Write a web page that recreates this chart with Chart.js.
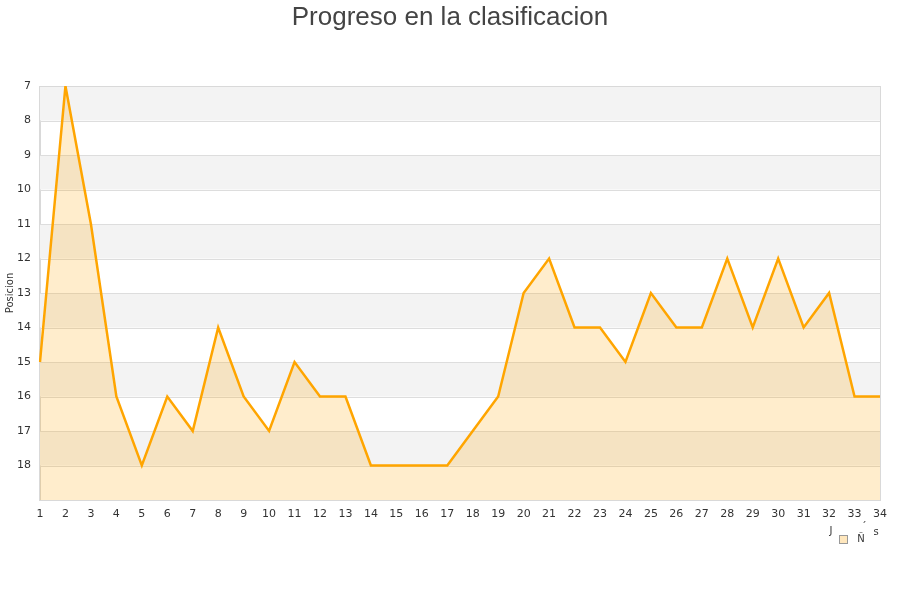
<!DOCTYPE html>
<html>
<head>
<meta charset="utf-8">
<script src="https://cdn.jsdelivr.net/npm/chart.js@4"></script>
<style>
html,body{margin:0;padding:0;background:#fff;}
#wrap{width:900px;height:600px;position:relative;}
</style>
</head>
<body>
<div id="wrap"><canvas id="c" width="900" height="600"></canvas></div>
<script>
const jornadas = ['1','2','3','4','5','6','7','8','9','10','11','12','13','14','15','16','17','18','19','20','21','22','23','24','25','26','27','28','29','30','31','32','33','34'];
const posicion = [15,7,11,16,18,16,17,14,16,17,15,16,16,18,18,18,18,17,16,13,12,14,14,15,13,14,14,12,14,12,14,13,16,16];
const yTicks = [7,8,9,10,11,12,13,14,15,16,17,18];
const titleText = 'Progreso en la clasificacion';
const yTitle = 'Posicion';

const bandsPlugin = {
  id: 'bands',
  beforeDatasetsDraw(chart) {
    const {ctx, chartArea: a, scales: {y}} = chart;
    ctx.save();
    for (let v = 7, i = 0; v < 19; v++, i++) {
      if (i % 2 === 0) {
        const t = y.getPixelForValue(v), b = y.getPixelForValue(v + 1);
        ctx.fillStyle = '#f3f3f3';
        ctx.fillRect(a.left, t, a.right - a.left, b - t);
      }
    }
    ctx.strokeStyle = '#dddddd';
    ctx.lineWidth = 1;
    for (let v = 8; v < 19; v++) {
      const p = Math.round(y.getPixelForValue(v)) + 0.5;
      ctx.beginPath(); ctx.moveTo(a.left, p); ctx.lineTo(a.right, p); ctx.stroke();
    }
    ctx.strokeStyle = '#d9d9d9';
    ctx.strokeRect(Math.round(a.left) - 0.5, Math.round(a.top) + 0.5, Math.round(a.right - a.left) + 1, Math.round(a.bottom - a.top));
    ctx.restore();
  },
  afterDraw(chart) {
    const {ctx} = chart;
    ctx.save();
    ctx.fillStyle = '#444444';
    ctx.font = '26px "Liberation Sans", Arial, sans-serif';
    ctx.textAlign = 'center';
    ctx.textBaseline = 'middle';
    ctx.fillText(titleText, 450, 18);
    // legend
    ctx.fillStyle = '#ffe7bd';
    ctx.fillRect(839.5, 535.5, 8, 8);
    ctx.strokeStyle = '#999999';
    ctx.lineWidth = 1;
    ctx.strokeRect(839.5, 535.5, 8, 8);
    ctx.fillStyle = '#333333';
    ctx.font = '10px "DejaVu Sans", sans-serif';
    ctx.textAlign = 'center';
    ctx.textBaseline = 'middle';
    ctx.fillText('J', 831, 531);
    ctx.fillText('Ñ', 861, 539);
    ctx.fillText('ˊ', 864, 527);
    ctx.fillText('s', 876, 532);
    ctx.restore();
  }
};

new Chart(document.getElementById('c'), {
  type: 'line',
  data: {
    labels: jornadas,
    datasets: [{
      label: 'Posicion',
      data: posicion,
      borderColor: '#FFA500',
      backgroundColor: 'rgba(255,165,0,0.2)',
      borderWidth: 2.5,
      pointRadius: 0,
      tension: 0,
      fill: 'start'
    }]
  },
  options: {
    responsive: false,
    animation: false,
    devicePixelRatio: 1,
    layout: {padding: {top: 86, right: 20, left: 0, bottom: 0}},
    plugins: {legend: {display: false}, title: {display: false}, tooltip: {enabled: false}},
    scales: {
      x: {
        type: 'category',
        offset: false,
        grid: {display: false, drawTicks: false, offset: false},
        border: {display: true, color: '#d9d9d9'},
        ticks: {color: '#333', font: {family: '"DejaVu Sans"', size: 11}, padding: 8, maxRotation: 0, autoSkip: false},
        afterFit(s) { s.height = 100; }
      },
      y: {
        min: 7, max: 19, reverse: true,
        afterBuildTicks(s) { s.ticks = yTicks.concat([19]).map(v => ({value: v})); },
        grid: {display: false, drawTicks: false},
        border: {display: true, color: '#d9d9d9'},
        ticks: {color: '#333', font: {family: '"DejaVu Sans"', size: 11}, padding: 9,
          callback: v => (yTicks.includes(v) ? String(v) : '')},
        title: {display: true, text: yTitle, color: '#333', font: {family: '"DejaVu Sans"', size: 10}, padding: {top: 4, bottom: 0}},
        afterFit(s) { s.width = 40; }
      }
    }
  },
  plugins: [bandsPlugin]
});
</script>
</body>
</html>
